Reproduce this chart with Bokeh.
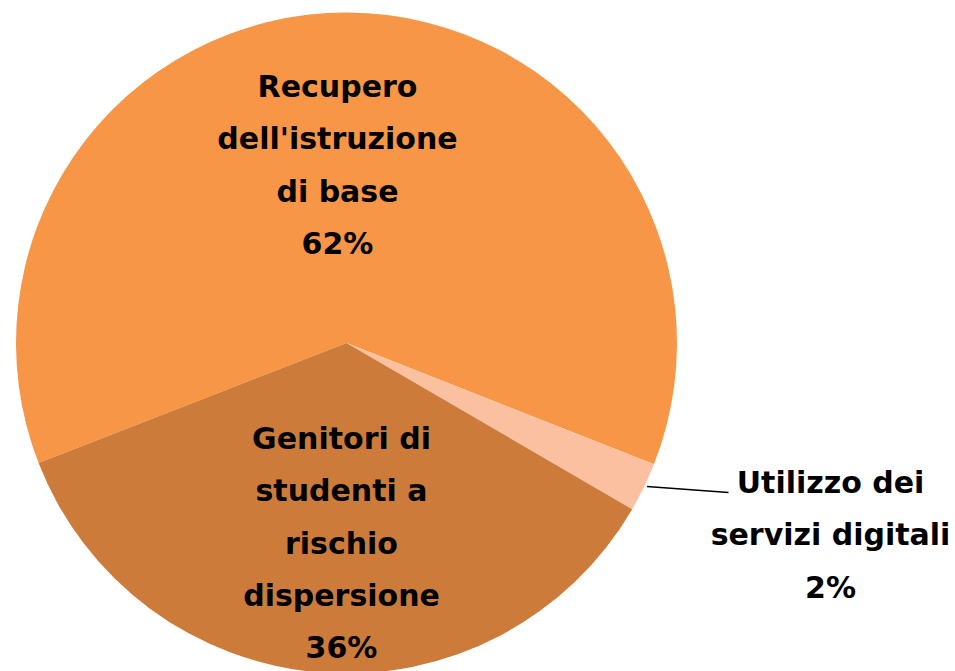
import math
from bokeh.plotting import figure
from bokeh.models import Range1d, ColumnDataSource
from bokeh.core.properties import value
from bokeh.embed import file_html
from bokeh.resources import INLINE

# ---- data ----
categories = ["Recupero\ndell'istruzione\ndi base",
              "Utilizzo dei\nservizi digitali",
              "Genitori di\nstudenti a\nrischio\ndispersione"]
shares = [61.9, 2.4, 35.7]
colors = ["#F79646", "#FAC09F", "#CD7B3B"]

# ---- layout ----
W, H = 955, 671
cx, cy, R = 346, -342.5, 330.5
start_deg = 201.3
label_pos = [(337, -86), (830, -482), (341, -438)]
line_gap = 52.3
font = "DejaVu Sans"
fsize = "30px"

p = figure(width=W, height=H, output_backend="svg", toolbar_location=None,
           x_range=Range1d(0, W), y_range=Range1d(-H, 0),
           min_border=0)
p.axis.visible = False
p.grid.visible = False
p.outline_line_color = None
p.background_fill_color = "white"

total = sum(shares)
starts, ends = [], []
a = math.radians(start_deg)
for s in shares:
    span = 2 * math.pi * s / total
    starts.append(a)
    ends.append(a - span)
    a -= span

src = ColumnDataSource(dict(start=starts, end=ends, color=colors))
p.wedge(x=cx, y=cy, radius=R, start_angle="start", end_angle="end",
        direction="clock", fill_color="color", line_color=None, source=src)

# leader line for the small slice
p.line(x=[646.5, 728], y=[-486, -492], line_color="black", line_width=1.5)

xs, ys, txt = [], [], []
for cat, s, (lx, ly) in zip(categories, shares, label_pos):
    lines = cat.split("\n") + [f"{round(s)}%"]
    for i, ln in enumerate(lines):
        xs.append(lx)
        ys.append(ly - i * line_gap)
        txt.append(ln)

p.text(x=xs, y=ys, text=txt, text_align="center", text_baseline="alphabetic",
       text_font=value(font), text_font_size=fsize, text_font_style="bold",
       text_color="black")

open("out.html", "w").write(file_html(p, INLINE))
